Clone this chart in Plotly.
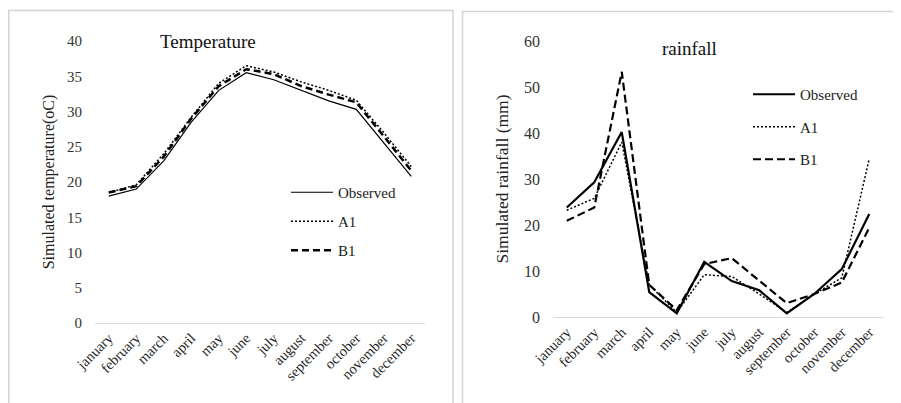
import plotly.graph_objects as go

months = ["january", "february", "march", "april", "may", "june", "july",
          "august", "september", "october", "november", "december"]

temp_observed = [18.0, 19.0, 23.0, 28.5, 33.0, 35.5, 34.5, 33.0, 31.5, 30.3, 25.5, 20.8]
temp_a1 = [18.5, 19.6, 24.0, 29.2, 34.0, 36.5, 35.6, 34.2, 33.0, 31.6, 27.0, 22.2]
temp_b1 = [18.5, 19.4, 23.6, 29.0, 33.6, 36.0, 35.3, 33.6, 32.4, 31.3, 26.5, 21.6]

rain_observed = [23.8, 29.3, 40.2, 5.4, 0.8, 12.0, 7.8, 5.8, 0.8, 5.0, 10.4, 22.4]
rain_a1 = [23.2, 25.8, 38.0, 7.0, 1.0, 9.2, 8.8, 5.0, 1.0, 5.0, 8.5, 34.4]
rain_b1 = [20.9, 23.8, 53.3, 7.0, 1.5, 11.5, 12.8, 8.0, 3.0, 5.0, 7.5, 19.4]

W, H = 901, 403
OFF = 8  # the page body shifts the figure by 8px; positions below are screen pixels
FONT = "Liberation Serif, Times New Roman, serif"

fig = go.Figure()

def px_x(v):
    return (v - OFF) / W

def px_y(v):
    return 1 - (v - OFF) / H

# left chart
fig.add_trace(go.Scatter(x=months, y=temp_observed, name="Observed", mode="lines",
                         line=dict(color="black", width=1.2), xaxis="x", yaxis="y", legend="legend"))
fig.add_trace(go.Scatter(x=months, y=temp_a1, name="A1", mode="lines",
                         line=dict(color="black", width=1.5, dash="2px,2px"), xaxis="x", yaxis="y", legend="legend"))
fig.add_trace(go.Scatter(x=months, y=temp_b1, name="B1", mode="lines",
                         line=dict(color="black", width=2.5, dash="7px,4px"), xaxis="x", yaxis="y", legend="legend"))

# right chart
fig.add_trace(go.Scatter(x=months, y=rain_observed, name="Observed", mode="lines",
                         line=dict(color="black", width=2.2), xaxis="x2", yaxis="y2", legend="legend2"))
fig.add_trace(go.Scatter(x=months, y=rain_a1, name="A1", mode="lines",
                         line=dict(color="black", width=1.5, dash="2px,2px"), xaxis="x2", yaxis="y2", legend="legend2"))
fig.add_trace(go.Scatter(x=months, y=rain_b1, name="B1", mode="lines",
                         line=dict(color="black", width=2.2, dash="8px,4px"), xaxis="x2", yaxis="y2", legend="legend2"))

for i, tr in enumerate(fig.data):
    tr.legendgroup = f"g{i}"

xcommon = dict(showgrid=False, zeroline=False, ticks="", automargin=False,
               showline=True, linecolor="#d9d9d9", linewidth=1, tickangle=-45,
               range=[-0.5, 11.5], tickfont=dict(family=FONT, size=14.5, color="#262626"))
ycommon = dict(showgrid=False, zeroline=False, ticks="", automargin=False, showline=False,
               ticklabelstandoff=12)

fig.update_layout(
    width=W, height=H, autosize=False,
    margin=dict(l=0, r=0, t=0, b=0, pad=0, autoexpand=False),
    paper_bgcolor="white", plot_bgcolor="white",
    font=dict(family=FONT, size=14, color="#222"),
    xaxis=dict(domain=[px_x(95), px_x(425)], anchor="y", **xcommon),
    yaxis=dict(domain=[px_y(323), px_y(41)], range=[0, 40], dtick=5, anchor="x",
               tickfont=dict(family=FONT, size=15, color="#333"),
               title=dict(text="Simulated temperature(oC)", standoff=8,
                          font=dict(family=FONT, size=16, color="#222")),
               **ycommon),
    xaxis2=dict(domain=[px_x(553), px_x(883)], anchor="y2", **xcommon),
    yaxis2=dict(domain=[px_y(317), px_y(41)], range=[0, 60], dtick=10, anchor="x2",
                tickfont=dict(family=FONT, size=16, color="#333"),
                title=dict(text="Simulated rainfall (mm)", standoff=10,
                           font=dict(family=FONT, size=17.5, color="#222")),
                **ycommon),
    legend=dict(x=px_x(286), y=px_y(176), xanchor="left", yanchor="top",
                bgcolor="rgba(0,0,0,0)", font=dict(family=FONT, size=15, color="#222"),
                tracegroupgap=6.5, itemwidth=42),
    legend2=dict(x=px_x(748), y=px_y(78), xanchor="left", yanchor="top",
                 bgcolor="rgba(0,0,0,0)", font=dict(family=FONT, size=15, color="#222"),
                 tracegroupgap=10, itemwidth=42),
    showlegend=True,
    annotations=[
        dict(text="Temperature", x=px_x(208), y=px_y(41), xref="paper", yref="paper",
             xanchor="center", yanchor="middle",
             showarrow=False, font=dict(family=FONT, size=19, color="#111")),
        dict(text="rainfall", x=px_x(689), y=px_y(49), xref="paper", yref="paper",
             xanchor="center", yanchor="middle",
             showarrow=False, font=dict(family=FONT, size=19, color="#111")),
    ],
    shapes=[
        dict(type="path", xref="paper", yref="paper",
             path=f"M {px_x(8.8)},0 L {px_x(8.8)},{px_y(10.5)} L {px_x(453)},{px_y(10.5)} L {px_x(453)},0",
             line=dict(color="#d4d4d4", width=1.5)),
        dict(type="path", xref="paper", yref="paper",
             path=f"M {px_x(462.5)},0 L {px_x(462.5)},{px_y(11.5)} L {px_x(909)},{px_y(11.5)}",
             line=dict(color="#d4d4d4", width=1.5)),
    ],
)

fig.write_html("out.html")
